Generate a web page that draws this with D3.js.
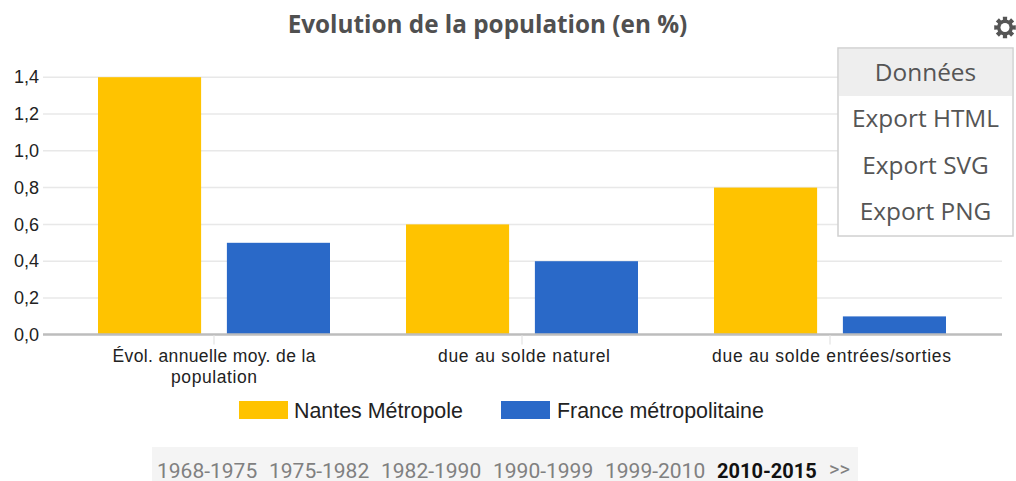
<!DOCTYPE html>
<html>
<head>
<meta charset="utf-8">
<script src="https://cdn.jsdelivr.net/npm/d3@7"></script>
<style>
  html, body { margin: 0; padding: 0; background: #fff; overflow: hidden; }
  svg { display: block; }
  .tick text { font-family: "Liberation Sans", Arial, sans-serif; }
</style>
</head>
<body>
<div id="my_dataviz"></div>
<script>
// values
var categories = ["Évol. annuelle moy. de la population", "due au solde naturel", "due au solde entrées/sorties"];
var seriesNames = ["Nantes Métropole", "France métropolitaine"];
var seriesColors = ["#ffc300", "#2a69c8"];
var nantesValues = [1.4, 0.6, 0.8];
var franceValues = [0.5, 0.4, 0.1];
var yTicks = [0, 0.2, 0.4, 0.6, 0.8, 1.0, 1.2, 1.4];
var menuItems = ["Données", "Export HTML", "Export SVG", "Export PNG"];
var periods = ["1968-1975", "1975-1982", "1982-1990", "1990-1999", "1999-2010", "2010-2015"];
var periodX = [157, 269, 381, 493, 605, 717];
var menuY = [72, 118, 165, 211];

var width = 1016, height = 481;
var axisLeft = 43, axisRight = 1002;

var svg = d3.select("#my_dataviz")
  .append("svg")
    .attr("width", width)
    .attr("height", height);

// scales
var y = d3.scaleLinear()
  .domain([0, 1.4])
  .range([334.8, 77.2]);

var x0 = d3.scaleBand()
  .domain(categories)
  .range([60, 984]);

var x1 = d3.scaleBand()
  .domain(seriesNames)
  .range([38, 270])
  .paddingInner(0.2);

var color = d3.scaleOrdinal().domain(seriesNames).range(seriesColors);

var rows = [];
categories.forEach(function(c, i) {
  rows.push({cat: c, name: seriesNames[0], value: nantesValues[i]});
  rows.push({cat: c, name: seriesNames[1], value: franceValues[i]});
});

// title
svg.append("text")
  .attr("x", 487.5)
  .attr("y", 33)
  .attr("text-anchor", "middle")
  .attr("font-family", "'Open Sans', sans-serif")
  .attr("font-weight", "bold")
  .attr("font-size", 24.3)
  .attr("fill", "#505050")
  .text("Evolution de la population (en %)");

// Y axis and grid
var fmt = d3.formatLocale({decimal: ",", thousands: " ", grouping: [3], currency: ["", "€"]}).format(".1f");
var yAxis = svg.append("g")
  .attr("transform", "translate(" + axisLeft + ",0)")
  .call(d3.axisLeft(y).tickValues(yTicks).tickFormat(fmt).tickSize(0).tickPadding(4));
yAxis.select(".domain").remove();
yAxis.selectAll("text")
  .attr("font-size", 18)
  .attr("fill", "#222");

svg.selectAll("line.grid")
  .data(yTicks.slice(1))
  .enter()
  .append("line")
    .attr("class", "grid")
    .attr("x1", axisLeft)
    .attr("x2", axisRight)
    .attr("y1", function(d) { return y(d); })
    .attr("y2", function(d) { return y(d); })
    .attr("stroke", "#e8e8e8")
    .attr("stroke-width", 1.5);

// Bars
svg.selectAll("rect.bar")
  .data(rows)
  .enter()
  .append("rect")
    .attr("class", "bar")
    .attr("x", function(d) { return x0(d.cat) + x1(d.name); })
    .attr("y", function(d) { return y(d.value); })
    .attr("width", x1.bandwidth())
    .attr("height", function(d) { return y(0) - y(d.value); })
    .attr("fill", function(d) { return color(d.name); });

// X axis
var xAxis = svg.append("g")
  .attr("transform", "translate(0,334.5)");
xAxis.append("line")
  .attr("x1", axisLeft)
  .attr("x2", axisRight)
  .attr("stroke", "#bdbdbd")
  .attr("stroke-width", 2.5);
xAxis.selectAll("line.tick")
  .data(categories)
  .enter()
  .append("line")
    .attr("class", "tick")
    .attr("x1", function(d) { return x0(d) + x0.bandwidth() / 2; })
    .attr("x2", function(d) { return x0(d) + x0.bandwidth() / 2; })
    .attr("y1", 1)
    .attr("y2", 10)
    .attr("stroke", "#e8e8e8")
    .attr("stroke-width", 1.5);

var xLines = [["Évol. annuelle moy. de la", "population"], ["due au solde naturel"], ["due au solde entrées/sorties"]];
var xLineWidths = [[203, 86], [172], [239]];
var xLineShift = [0, 2, 1.5];
xAxis.selectAll("text.cat")
  .data(categories)
  .enter()
  .append("text")
    .attr("class", "cat")
    .attr("text-anchor", "middle")
    .attr("font-family", "'Liberation Sans', Arial, sans-serif")
    .attr("font-size", 17.5)
    .attr("fill", "#222")
    .each(function(d, i) {
      var cx = x0(d) + x0.bandwidth() / 2 + xLineShift[i];
      d3.select(this).selectAll("tspan")
        .data(xLines[i])
        .enter()
        .append("tspan")
          .attr("x", cx)
          .attr("y", function(l, j) { return 27 + j * 21; })
          .attr("textLength", function(l, j) { return xLineWidths[i][j]; })
          .text(function(l) { return l; });
    });

// legend
var legendX = [239, 501];
var legend = svg.selectAll("g.legend")
  .data(seriesNames)
  .enter()
  .append("g")
    .attr("class", "legend")
    .attr("transform", function(d, i) { return "translate(" + legendX[i] + ",401)"; });
legend.append("rect")
  .attr("width", 49)
  .attr("height", 18)
  .attr("fill", function(d) { return color(d); });
legend.append("text")
  .attr("x", function(d, i) { return i === 0 ? 55 : 56; })
  .attr("y", 17)
  .attr("font-family", "'Liberation Sans', Arial, sans-serif")
  .attr("font-size", 21.4)
  .attr("fill", "#222")
  .text(function(d) { return d; });

// period selector
svg.append("rect")
  .attr("x", 152)
  .attr("y", 447)
  .attr("width", 706)
  .attr("height", 34)
  .attr("fill", "#f4f4f4");
svg.selectAll("text.period")
  .data(periods)
  .enter()
  .append("text")
    .attr("class", "period")
    .attr("x", function(d, i) { return periodX[i]; })
    .attr("y", 478)
    .attr("font-family", "Roboto, sans-serif")
    .attr("font-size", function(d, i) { return i === periods.length - 1 ? 20 : 21; })
    .attr("font-weight", function(d, i) { return i === periods.length - 1 ? "bold" : "normal"; })
    .attr("fill", function(d, i) { return i === periods.length - 1 ? "#111" : "#808080"; })
    .text(function(d) { return d; });
svg.append("text")
  .attr("x", 829)
  .attr("y", 476)
  .attr("font-family", "Roboto, sans-serif")
  .attr("font-size", 20)
  .attr("fill", "#808080")
  .text(">>");

// gear icon
var gearPts = [];
d3.range(8).forEach(function(i) {
  var a = i * Math.PI / 4;
  [[-0.26, 8], [-0.2, 11], [0.2, 11], [0.26, 8]].forEach(function(p) {
    gearPts.push([Math.sin(a + p[0]) * p[1], -Math.cos(a + p[0]) * p[1]]);
  });
});
var gear = svg.append("g").attr("transform", "translate(1005,27.5)");
gear.append("path")
  .attr("d", d3.line()(gearPts) + "Z")
  .attr("fill", "#555");
gear.append("circle")
  .attr("r", 4.5)
  .attr("fill", "#fff");

// export menu
svg.append("rect")
  .attr("x", 838)
  .attr("y", 48)
  .attr("width", 175)
  .attr("height", 188)
  .attr("fill", "#fff")
  .attr("stroke", "#d0d0d0")
  .attr("stroke-width", 1.5);
svg.append("rect")
  .attr("x", 839)
  .attr("y", 49)
  .attr("width", 173)
  .attr("height", 47)
  .attr("fill", "#eeeeee");
svg.selectAll("text.menu")
  .data(menuItems)
  .enter()
  .append("text")
    .attr("class", "menu")
    .attr("x", 925.5)
    .attr("y", function(d, i) { return menuY[i]; })
    .attr("dy", "0.35em")
    .attr("text-anchor", "middle")
    .attr("font-family", "'Open Sans', sans-serif")
    .attr("font-size", 24.4)
    .attr("fill", "#555")
    .text(function(d) { return d; });
</script>
</body>
</html>
